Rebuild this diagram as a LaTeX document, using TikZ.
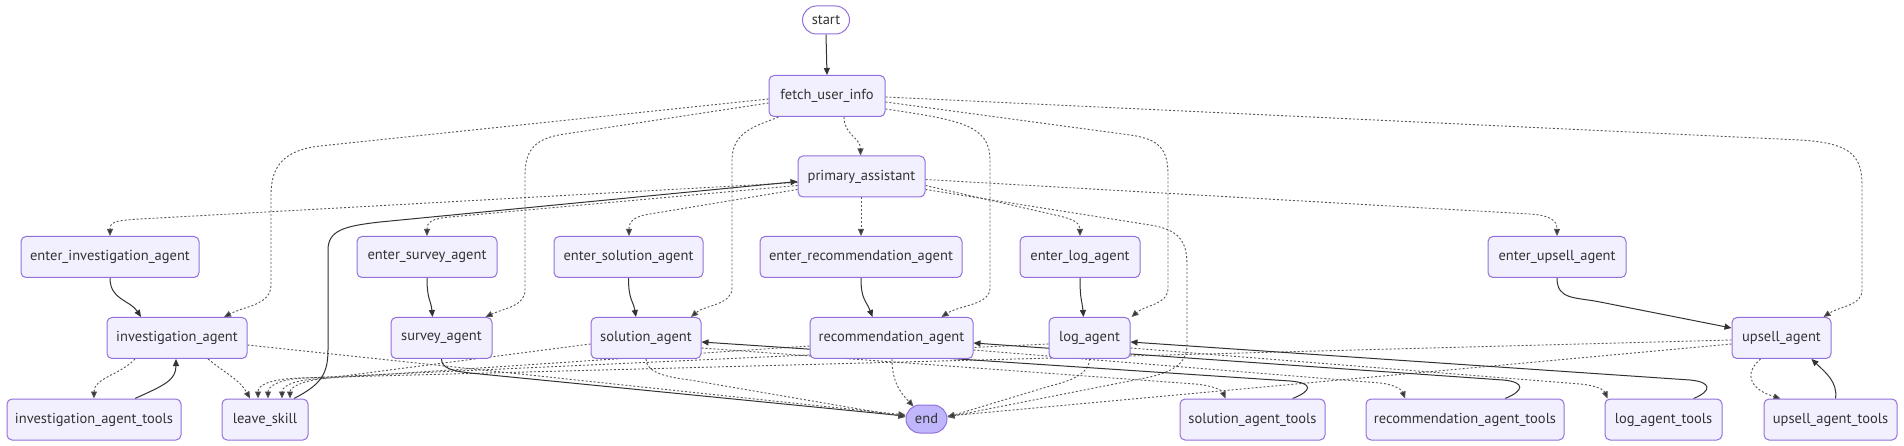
\documentclass[tikz,border=0pt]{standalone}
\usepackage{fontspec}
\newfontfamily\nf{PT Sans}
\usetikzlibrary{arrows.meta,calc}
\definecolor{nfill}{HTML}{F2F0FF}
\definecolor{nstroke}{HTML}{9370DB}
\definecolor{endfill}{HTML}{BFB6FC}
\definecolor{lc}{HTML}{333333}
\definecolor{dc}{HTML}{555555}
\pgfdeclarelayer{bg}\pgfdeclarelayer{edges}\pgfsetlayers{bg,edges,main}
\begin{document}
\begin{tikzpicture}[x=1pt,y=-1pt,
 nd/.style={draw=nstroke, fill=nfill, line width=1pt, rounded corners=5pt, minimum height=41pt, inner sep=0pt, font=\nf\fontsize{14.5}{16}\selectfont, text=lc},
 term/.style={nd, rounded corners=14pt, minimum height=28pt},
 sl/.style={draw=lc, line width=1pt, -{Triangle[length=7pt,width=6pt]}},
 dl/.style={draw=dc, line width=0.9pt, dash pattern=on 2pt off 2pt, -{Triangle[length=7pt,width=6pt,fill=lc]}},
]
\begin{pgfonlayer}{bg}
\fill[white] (0,0) rectangle (1904,446);
\end{pgfonlayer}
\useasboundingbox (0,0) rectangle (1904,446);

% nodes
\node[term, fill=white, minimum width=47pt] (st) at (826,20) {start};
\node[nd, minimum width=116pt] (fe) at (827,96) {fetch\_user\_info};
\node[nd, minimum width=127pt] (pa) at (861.5,176.5) {primary\_assistant};
\node[nd, minimum width=178pt] (ei) at (110,257) {enter\_investigation\_agent};
\node[nd, minimum width=140pt] (es) at (427,257) {enter\_survey\_agent};
\node[nd, minimum width=149pt] (eso) at (628.5,257) {enter\_solution\_agent};
\node[nd, minimum width=202pt] (er) at (861,257) {enter\_recommendation\_agent};
\node[nd, minimum width=120pt] (el) at (1080,257) {enter\_log\_agent};
\node[nd, minimum width=138pt] (eu) at (1557,257) {enter\_upsell\_agent};
\node[nd, minimum width=140pt] (ia) at (177,338) {investigation\_agent};
\node[nd, minimum width=101pt] (sa) at (441.5,338) {survey\_agent};
\node[nd, minimum width=110pt] (so) at (646,338) {solution\_agent};
\node[nd, minimum width=163pt] (ra) at (891.5,338) {recommendation\_agent};
\node[nd, minimum width=81pt] (la) at (1089.5,338) {log\_agent};
\node[nd, minimum width=99pt] (ua) at (1781.5,338) {upsell\_agent};
\node[nd, minimum width=174pt] (it) at (94,419.5) {investigation\_agent\_tools};
\node[nd, minimum width=86pt] (ls) at (265,419.5) {leave\_skill};
\node[term, fill=endfill, minimum width=41pt] (en) at (926.5,419) {end};
\node[nd, minimum width=145pt] (sot) at (1252.5,419.5) {solution\_agent\_tools};
\node[nd, minimum width=198pt] (rt) at (1465,419.5) {recommendation\_agent\_tools};
\node[nd, minimum width=117pt] (lt) at (1663.5,419.5) {log\_agent\_tools};
\node[nd, minimum width=133pt] (ut) at (1830.5,419.5) {upsell\_agent\_tools};

\begin{pgfonlayer}{edges}
% start / fetch
\draw[sl] (st.south) -- (fe.north);
\draw[dl] ($(fe.south)+(17,0)$) .. controls ($(fe.south)+(17,18)$) and ($(pa.north)+(-1,-18)$) .. ($(pa.north)+(-1,0)$);
\draw[dl] ($(fe.west)+(0,3)$) -- (320,146) .. controls (285,150) and (271,165) .. (271,195) -- (271,285) .. controls (271,305) and (245,306) .. ($(ia.north)+(47,0)$);
\draw[dl] ($(fe.west)+(0,7)$) -- (565,134) .. controls (535,138) and (525,150) .. (525,175) -- (525,290) .. controls (525,306) and (505,308) .. ($(sa.north)+(44,0)$);
\draw[dl] ($(fe.south west)+(10,0)$) .. controls (760,125) and (732,130) .. (732,160) -- (732,288) .. controls (732,305) and (705,305) .. ($(so.north)+(45,0)$);
\draw[dl] ($(fe.east)+(0,13)$) .. controls (960,120) and (990,125) .. (990,160) -- (990,288) .. controls (990,305) and (960,305) .. ($(ra.north)+(50,0)$);
\draw[dl] ($(fe.east)+(0,6)$) -- (1130,135) .. controls (1160,139) and (1168,150) .. (1168,175) -- (1168,288) .. controls (1168,305) and (1145,305) .. ($(la.north)+(42,0)$);
\draw[dl] ($(fe.east)+(0,1)$) -- (1800,140) .. controls (1850,143) and (1862,155) .. (1862,185) -- (1862,290) .. controls (1862,306) and (1840,306) .. ($(ua.north)+(42,0)$);
% primary assistant
\draw[dl] ($(pa.west)+(0,6)$) -- (140,219) .. controls (115,220.5) and (110,222) .. (ei.north);
\draw[dl] ($(pa.west)+(0,9)$) -- (450,217) .. controls (432,218.5) and (427,222) .. (es.north);
\draw[dl] ($(pa.west)+(0,13)$) -- (650,214) .. controls (634,216.5) and (629,221) .. ($(eso.north)+(0.5,0)$);
\draw[dl] ($(pa.south)+(-0.5,0)$) -- (er.north);
\draw[dl] ($(pa.east)+(0,9)$) -- (1055,215) .. controls (1074,219) and (1080,223) .. (el.north);
\draw[dl] ($(pa.east)+(0,3)$) -- (1530,214) .. controls (1550,215.5) and (1557,220) .. (eu.north);
\draw[dl] ($(pa.east)+(0,13)$) -- (1150,225) .. controls (1178,229.5) and (1187,240) .. (1187,265) -- (1187,345) .. controls (1187,365) and (1170,372) .. (1150,377) -- ($(en.east)+(0,-2)$);
% enter -> agent
\draw[sl] (ei.south) .. controls (110,300) and (130,300) .. ($(ia.north)+(-36,0)$);
\draw[sl] (es.south) .. controls (427,300) and (431,300) .. ($(sa.north)+(-9,0)$);
\draw[sl] (eso.south) .. controls (628.5,300) and (633,300) .. ($(so.north)+(-10,0)$);
\draw[sl] (er.south) .. controls (861,300) and (866,300) .. ($(ra.north)+(-19,0)$);
\draw[sl] (el.south) .. controls (1080,300) and (1082,300) .. ($(la.north)+(-6,0)$);
\draw[sl] (eu.south) .. controls (1557,300) and (1575,297) .. (1600,302) -- ($(ua.west)+(0,-10)$);
% investigation
\draw[dl] ($(ia.south)+(-42,0)$) .. controls (120,375) and (94,378) .. (it.north);
\draw[sl] ($(it.north)+(41,0)$) .. controls (165,385) and (176,380) .. ($(ia.south)+(-1,0)$);
\draw[dl] ($(ia.south)+(31,0)$) .. controls (225,373) and (240,380) .. ($(ls.north)+(-15,0)$);
\draw[dl] ($(ia.east)+(0,7)$) -- ($(en.west)+(0,-4)$);
% to leave_skill
\draw[dl] ($(so.west)+(0,6)$) -- (320,379) .. controls (300,381.5) and (290,388) .. ($(ls.north)+(25,0)$);
\draw[dl] ($(ra.west)+(0,8)$) -- (315,379) .. controls (292,380.5) and (282,387) .. ($(ls.north)+(17,0)$);
\draw[dl] ($(la.west)+(0,6)$) -- (305,378) .. controls (280,379) and (268,386) .. ($(ls.north)+(3,0)$);
\draw[dl] ($(ua.west)+(0,2)$) -- (300,378) .. controls (270,379) and (258,385) .. ($(ls.north)+(-7,0)$);
\draw[sl] ($(ls.north)+(29,0)$) .. controls (320,385) and (328,375) .. (328,350) -- (328,250) .. controls (328,230) and (345,226) .. (380,222) -- ($(pa.west)+(0,5)$);
% to end
\draw[sl] (sa.south) .. controls (441.5,368) and (452,371) .. (470,373) -- ($(en.west)+(0,-3)$);
\draw[dl] (so.south) .. controls (646,372) and (665,377) .. (690,380) -- ($(en.west)+(0,-2)$);
\draw[dl] ($(ra.south)+(0.5,0)$) .. controls (892,385) and (903,395) .. ($(en.north)+(-13,2)$);
\draw[dl] (la.south) .. controls (1089.5,372) and (1075,380) .. (1050,386) -- ($(en.east)+(0,-2)$);
\draw[dl] ($(ua.west)+(0,6)$) -- ($(en.east)+(0,-3)$);
% tools
\draw[dl] ($(so.east)+(0,10)$) -- (1195,384) .. controls (1212,385.5) and (1222,390) .. ($(sot.north)+(-27,0)$);
\draw[sl] ($(sot.north)+(40,0)$) .. controls (1312,391) and (1314,383) .. (1290,381) -- ($(so.east)+(0,4)$);
\draw[dl] ($(ra.east)+(0,12)$) -- (1380,383) .. controls (1395,384.5) and (1402,390) .. ($(rt.north)+(-60,0)$);
\draw[sl] ($(rt.north)+(40,0)$) .. controls (1524,391) and (1526,382) .. (1503,380) -- ($(ra.east)+(0,5)$);
\draw[dl] ($(la.east)+(0,10)$) -- (1580,384) .. controls (1597,385.5) and (1604,390) .. ($(lt.north)+(-56,0)$);
\draw[sl] ($(lt.north)+(30,0)$) .. controls (1712,391) and (1712,382) .. (1690,380) -- ($(la.east)+(0,4)$);
\draw[dl] ($(ua.south)+(-21,0)$) .. controls (1742,375) and (1752,390) .. ($(ut.north)+(-50,0)$);
\draw[sl] ($(ut.north)+(5,0)$) .. controls (1838,382) and (1825,372) .. ($(ua.south)+(30,0)$);
\end{pgfonlayer}
\end{tikzpicture}
\end{document}
